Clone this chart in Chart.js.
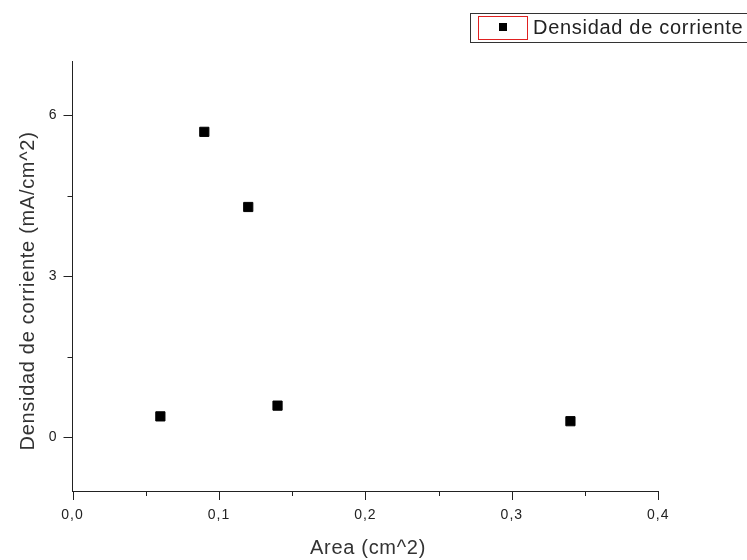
<!DOCTYPE html>
<html>
<head>
<meta charset="utf-8">
<script src="https://cdn.jsdelivr.net/npm/chart.js@4.4.1/dist/chart.umd.min.js"></script>
<style>
  html, body { margin: 0; padding: 0; background: #fff; }
  #wrap { width: 747px; height: 560px; }
</style>
</head>
<body>
<div id="wrap"><canvas id="densityChart" width="747" height="560"></canvas></div>
<script>
// Measured samples
const areas = [0.06, 0.09, 0.12, 0.14, 0.34];
const densities = [0.39, 5.69, 4.29, 0.59, 0.30];
const seriesName = 'Densidad de corriente';

// Axis ticks (major ones get labels, the rest are minor marks)
const xTicks = [0, 0.05, 0.1, 0.15, 0.2, 0.25, 0.3, 0.35, 0.4];
const xMajor = [0, 0.1, 0.2, 0.3, 0.4];
const yTicks = [0, 1.5, 3, 4.5, 6];
const yMajor = [0, 3, 6];

const ink = '#222';
const tickFont = { family: 'Arial, "Liberation Sans", sans-serif', size: 14 };
const titleFont = '20px Arial, "Liberation Sans", sans-serif';

const isMajor = (list, v) => list.some(m => Math.abs(m - v) < 1e-9);
const fmt = v => v.toFixed(1).replace('.', ',');

// Origin-style tick marks, axis titles and legend box
const decorations = {
  id: 'decorations',
  beforeDraw(chart) {
    // slightly spaced-out tick labels
    chart.ctx.letterSpacing = '1px';
  },
  afterDraw(chart) {
    const { ctx, scales: { x, y } } = chart;
    ctx.save();
    ctx.strokeStyle = ink;
    ctx.lineWidth = 1;

    // tick marks pointing outwards
    xTicks.forEach(v => {
      const px = Math.round(x.getPixelForValue(v)) + 0.5;
      const len = isMajor(xMajor, v) ? 9 : 5;
      ctx.beginPath();
      ctx.moveTo(px, y.bottom);
      ctx.lineTo(px, y.bottom + len);
      ctx.stroke();
    });
    yTicks.forEach(v => {
      const py = Math.round(y.getPixelForValue(v)) + 0.5;
      const len = isMajor(yMajor, v) ? 9 : 5;
      ctx.beginPath();
      ctx.moveTo(x.left, py);
      ctx.lineTo(x.left - len, py);
      ctx.stroke();
    });

    // axis titles
    ctx.letterSpacing = '0.7px';
    ctx.fillStyle = '#333';
    ctx.font = titleFont;
    ctx.textAlign = 'center';
    ctx.textBaseline = 'middle';
    ctx.fillText('Area (cm^2)', 368, 548);
    ctx.save();
    ctx.translate(28, 291);
    ctx.rotate(-Math.PI / 2);
    ctx.fillText('Densidad de corriente (mA/cm^2)', 0, 0);
    ctx.restore();

    // legend
    ctx.strokeStyle = '#333';
    ctx.strokeRect(470.5, 13.5, 300, 29);
    ctx.strokeStyle = '#e02020';
    ctx.strokeRect(478.5, 16.5, 49, 23);
    ctx.fillStyle = '#000';
    ctx.fillRect(499, 23, 8, 8);
    ctx.fillStyle = '#222';
    ctx.font = titleFont;
    ctx.textAlign = 'left';
    ctx.fillText(seriesName, 533, 28);
    ctx.restore();
  }
};

const ctx = document.getElementById('densityChart').getContext('2d');
new Chart(ctx, {
  type: 'scatter',
  data: {
    datasets: [{
      label: seriesName,
      data: areas.map((a, i) => ({ x: a, y: densities[i] })),
      pointStyle: 'rect',
      radius: 6.5,
      hoverRadius: 6.5,
      borderWidth: 1,
      backgroundColor: '#000',
      borderColor: '#000'
    }]
  },
  options: {
    responsive: false,
    animation: false,
    events: [],
    layout: { padding: { top: 61.5, right: 88.7, left: 0, bottom: 0 } },
    plugins: { legend: { display: false }, tooltip: { enabled: false } },
    scales: {
      x: {
        type: 'linear',
        min: 0,
        max: 0.4,
        afterFit: s => { s.height = 69; },
        afterBuildTicks: s => { s.ticks = xTicks.map(v => ({ value: v })); },
        grid: { display: false, drawTicks: false },
        border: { display: true, color: ink, width: 1 },
        ticks: {
          padding: 16,
          color: ink,
          font: tickFont,
          autoSkip: false,
          maxRotation: 0,
          callback: v => isMajor(xMajor, v) ? fmt(v) : ''
        }
      },
      y: {
        type: 'linear',
        min: -1,
        max: 7,
        afterFit: s => { s.width = 72.5; },
        afterBuildTicks: s => { s.ticks = yTicks.map(v => ({ value: v })); },
        grid: { display: false, drawTicks: false },
        border: { display: true, color: ink, width: 1 },
        ticks: {
          padding: 15,
          color: ink,
          font: tickFont,
          autoSkip: false,
          callback: v => isMajor(yMajor, v) ? String(v) : ''
        }
      }
    }
  },
  plugins: [decorations]
});
</script>
</body>
</html>
